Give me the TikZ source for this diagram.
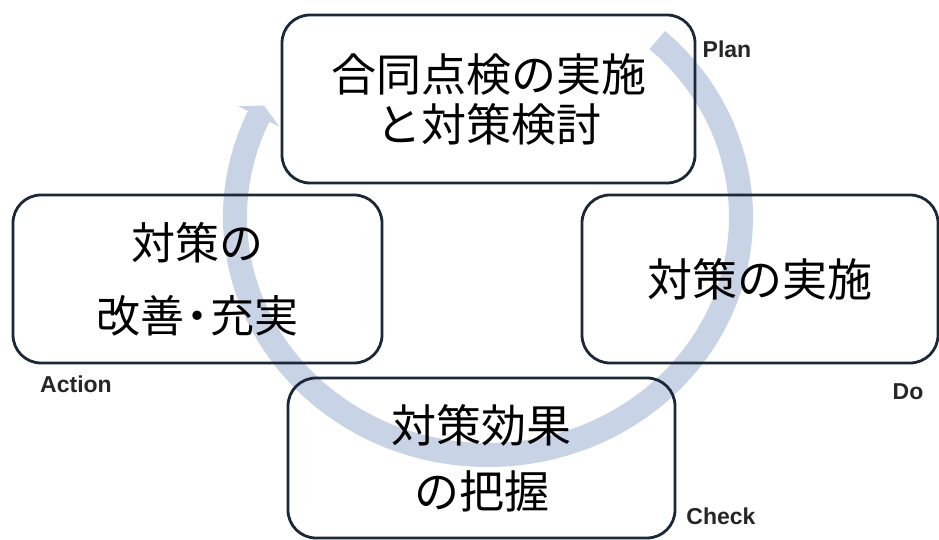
\documentclass[tikz,border=0pt]{standalone}
\usepackage{fontspec}
\setmainfont{Liberation Sans}
\newfontfamily\jp{Noto Sans CJK JP}
\definecolor{bandcol}{RGB}{200,211,229}
\definecolor{boxline}{RGB}{27,40,56}
\begin{document}
\begin{tikzpicture}[x=1pt,y=1pt,
  stagebox/.style={draw=boxline, line width=2.8pt, rounded corners=28pt, align=center,
    inner sep=0pt, font=\jp\fontsize{45}{56}\selectfont, text=black},
  phaselabel/.style={font=\bfseries\fontsize{23}{26}\selectfont, text=black!85, inner sep=0pt},
  band/.style={draw=bandcol, line width=24pt, line cap=butt}]
\useasboundingbox (0,0) rectangle (939,540);
\fill[white] (0,0) rectangle (939,540);
% circular arrow
\coordinate (C) at (488,323);
\draw[band] (C) ++(48:253 and 238) arc[start angle=48, end angle=-205, x radius=253, y radius=238];
\coordinate (hb1) at (279.4,413.3);
\coordinate (hb2) at (238.0,433.9);
\coordinate (htip) at (264.0,434.4);
\fill[bandcol] (hb1) -- (htip) -- (hb2) -- cycle;
% boxes
\node[stagebox, minimum width=413pt, minimum height=168pt] (plan) at (488.5,441) {合同点検の実施\\[-6pt]と対策検討};
\node[stagebox, minimum width=369pt, minimum height=168pt, font=\jp\fontsize{44}{73}\selectfont] (act) at (197.5,261) {対策の\\改善\hspace{-9pt}・\hspace{-9pt}充実};
\node[stagebox, minimum width=356pt, minimum height=168pt] (do) at (760,261) {対策の実施};
\node[stagebox, minimum width=387pt, minimum height=160pt, font=\jp\fontsize{45}{66}\selectfont] (chk) at (481.5,82) {対策効果\\の把握};
% labels
\node[phaselabel] (lplan) at (727,491) {Plan};
\node[phaselabel] (lact) at (76,156) {Action};
\node[phaselabel] (ldo) at (908,148) {Do};
\node[phaselabel] (lchk) at (721,24) {Check};
\end{tikzpicture}
\end{document}
